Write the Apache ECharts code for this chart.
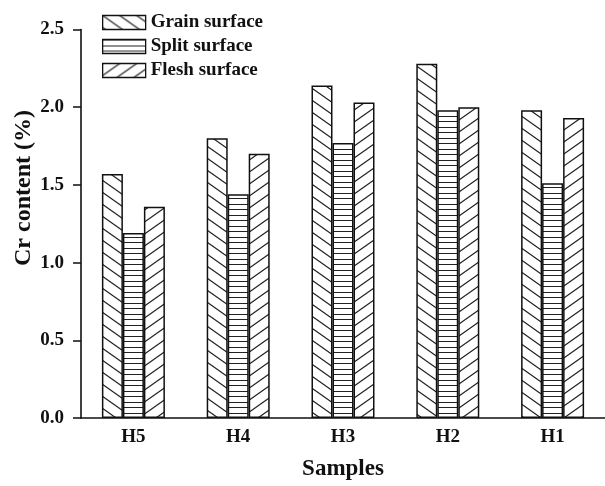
<!DOCTYPE html>
<html>
<head>
<meta charset="utf-8">
<script src="https://cdn.jsdelivr.net/npm/echarts@6/dist/echarts.min.js"></script>
<style>
  html, body { margin: 0; padding: 0; background: #fff; }
  #chart { width: 605px; height: 486px; }
</style>
</head>
<body>
<div id="chart"></div>
<script>
// Cr content of each leather surface, per sample
const categories = ['H5', 'H4', 'H3', 'H2', 'H1'];
const grainSurface = [1.57, 1.80, 2.14, 2.28, 1.98];
const splitSurface = [1.19, 1.44, 1.77, 1.98, 1.51];
const fleshSurface = [1.36, 1.70, 2.03, 2.00, 1.93];
const yTicks = [0, 0.5, 1.0, 1.5, 2.0, 2.5];

const SERIF = '"Liberation Serif", "Times New Roman", serif';
const INK = '#111';

// Hatch fills drawn into small tiles and repeated
function hatch(kind) {
  const c = document.createElement('canvas');
  let w, h;
  if (kind === 'h') { w = 8; h = 11; } else { w = 17; h = 12; }
  c.width = w; c.height = h;
  const g = c.getContext('2d');
  g.fillStyle = '#fff';
  g.fillRect(0, 0, w, h);
  g.strokeStyle = '#222';
  g.lineWidth = 1.2;
  g.beginPath();
  if (kind === 'h') {
    g.moveTo(0, 0.5); g.lineTo(w, 0.5);
    g.moveTo(0, 6.5); g.lineTo(w, 6.5);
  } else if (kind === 'back') {
    for (const k of [-1, 0, 1]) {
      g.moveTo(-2, k * h - 2 * h / w);
      g.lineTo(w + 2, k * h + h + 2 * h / w);
    }
  } else {
    for (const k of [-1, 0, 1]) {
      g.moveTo(-2, k * h + h + 2 * h / w);
      g.lineTo(w + 2, k * h - 2 * h / w);
    }
  }
  g.stroke();
  return { image: c, repeat: 'repeat' };
}

function barSeries(name, data, kind) {
  return {
    name: name,
    type: 'bar',
    data: data,
    barWidth: 21,
    barGap: '0%',
    itemStyle: { color: hatch(kind), borderColor: INK, borderWidth: 1.5 }
  };
}

const chart = echarts.init(document.getElementById('chart'), null, { renderer: 'canvas' });
chart.setOption({
  backgroundColor: '#fff',
  animation: false,
  grid: { left: 81, top: 29.5, right: -3, bottom: 64 },
  legend: {
    orient: 'vertical',
    left: 97,
    top: 8,
    itemWidth: 43,
    itemHeight: 14,
    itemGap: 5,
    icon: 'rect',
    textStyle: { fontFamily: SERIF, fontWeight: 'bold', fontSize: 19, color: INK },
    itemStyle: { borderColor: INK, borderWidth: 1.3 }
  },
  xAxis: {
    type: 'category',
    data: categories,
    name: 'Samples',
    nameLocation: 'middle',
    nameGap: 40,
    nameTextStyle: { fontFamily: SERIF, fontWeight: 'bold', fontSize: 23, color: INK },
    axisLine: { lineStyle: { color: INK, width: 1.6 } },
    axisTick: { show: false },
    axisLabel: { fontFamily: SERIF, fontWeight: 'bold', fontSize: 19, color: INK, margin: 10 }
  },
  yAxis: {
    type: 'value',
    min: yTicks[0],
    max: yTicks[yTicks.length - 1],
    interval: 0.5,
    splitLine: { show: false },
    axisLine: { show: true, lineStyle: { color: INK, width: 1.6 } },
    axisTick: { show: true, inside: false, length: 8, lineStyle: { color: INK, width: 1.5 } },
    axisLabel: {
      fontFamily: SERIF, fontWeight: 'bold', fontSize: 19, color: INK, margin: 17,
      formatter: v => v.toFixed(1)
    }
  },
  graphic: [{
    type: 'text',
    x: 24,
    y: 188,
    rotation: Math.PI / 2,
    style: {
      text: 'Cr content (%)',
      font: 'bold 24px ' + SERIF,
      fill: INK,
      align: 'center',
      verticalAlign: 'middle'
    }
  }],
  series: [
    barSeries('Grain surface', grainSurface, 'back'),
    barSeries('Split surface', splitSurface, 'h'),
    barSeries('Flesh surface', fleshSurface, 'fwd')
  ]
});
</script>
</body>
</html>
